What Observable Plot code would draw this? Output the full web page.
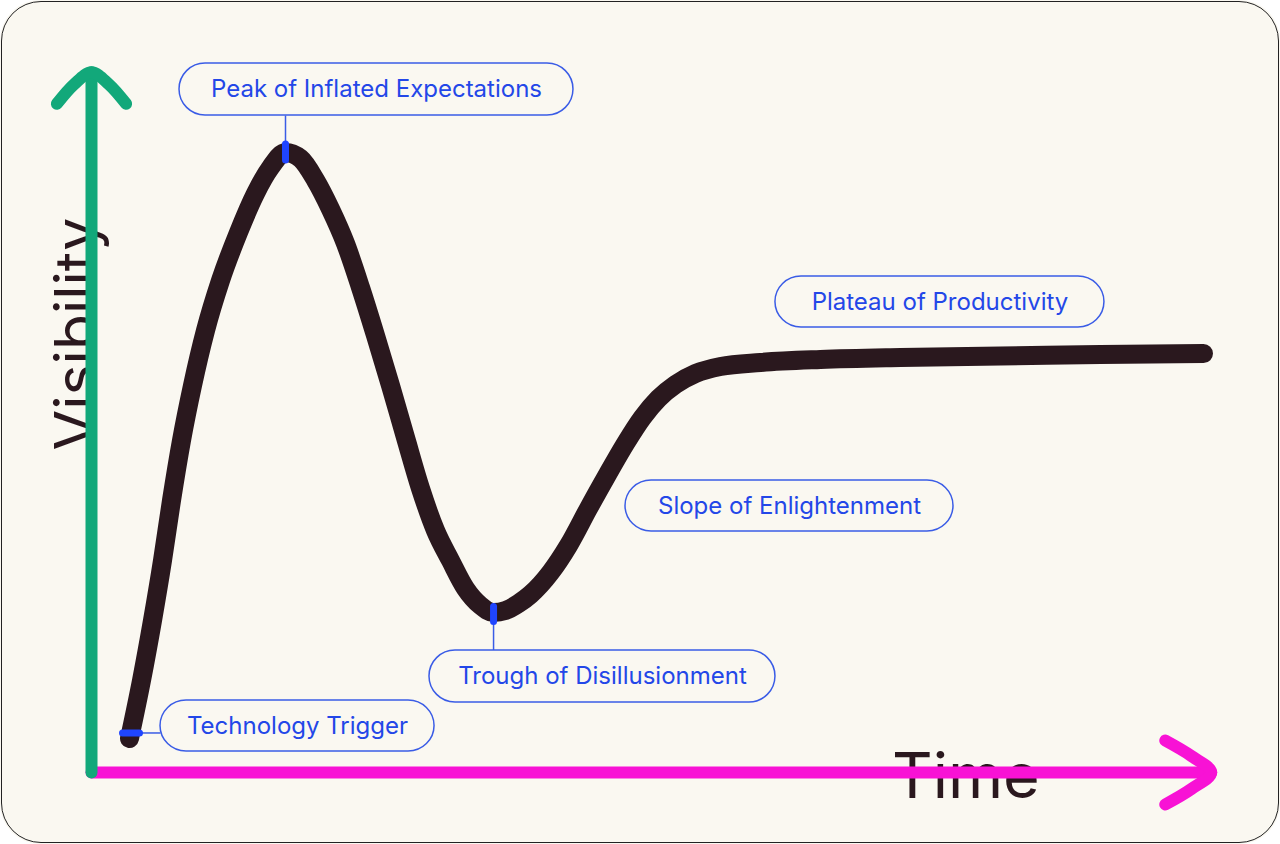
<!DOCTYPE html>
<html>
<head>
<meta charset="utf-8">
<script src="https://cdn.jsdelivr.net/npm/d3@7"></script>
<script src="https://cdn.jsdelivr.net/npm/@observablehq/plot@0.6"></script>
<style>
  html, body { margin: 0; padding: 0; background: #ffffff; }
  #card { position: relative; width: 1280px; height: 844px; background: #faf8f1; border-radius: 40px; overflow: hidden; }
  #card svg { position: absolute; left: 0; top: 0; }
  #border { position: absolute; left: 1px; top: 1px; right: 1px; bottom: 1px; border: 1.6px solid #222; border-radius: 40px; pointer-events: none; box-sizing: border-box; }
</style>
</head>
<body>
<div id="card"><div id="border"></div></div>
<script>
// ---- Hype-cycle curve (time vs visibility, 0-100 units) ----
const curveX = [3.381, 4.448, 5.427, 6.317, 7.117, 8.007, 8.986, 10.142, 11.477, 13.078, 14.591, 15.925, 17.260,
  18.594, 19.929, 21.263, 22.598, 23.932, 25.267, 26.601, 27.936, 29.270, 30.605, 31.940, 33.274, 34.609, 35.765,
  36.833, 37.990, 39.057, 40.836, 42.438, 44.217, 45.907, 47.509, 49.021, 50.445, 51.957, 53.737, 55.961, 59.520, 64.858, 71.975, 80.872, 89.769, 98.932];
const curveY = [4.843, 13.105, 21.652, 30.199, 38.746, 47.293, 55.128, 62.963, 70.085, 76.923, 82.479, 86.182, 88.319,
  87.464, 84.387, 80.256, 75.356, 69.088, 62.251, 55.128, 47.721, 40.456, 34.473, 30.199, 26.211, 23.789, 22.792,
  23.077, 24.074, 25.356, 28.490, 32.336, 37.607, 42.450, 46.866, 50.570, 53.276, 55.271, 56.838, 57.835, 58.405, 58.832, 59.117, 59.330, 59.544, 59.687];

// ---- Phase labels (pill boxes) ----
const phaseNames = ["Technology Trigger", "Peak of Inflated Expectations", "Trough of Disillusionment", "Slope of Enlightenment", "Plateau of Productivity"];
const pillX1 = [6.14, 7.83, 30.07, 47.51, 60.85];
const pillX2 = [30.52, 42.88, 60.85, 76.69, 90.12];
const pillY1 = [2.99, 93.59, 9.97, 34.33, 63.39];
const pillY2 = [10.26, 101.0, 17.38, 41.60, 70.66];

// ---- Markers on the curve (trigger, peak, trough) ----
const markX1 = [2.76, 17.26, 35.77];
const markX2 = [4.27, 17.26, 35.77];
const markY1 = [5.63, 87.25, 21.51];
const markY2 = [5.63, 89.53, 23.65];

// ---- Connectors from markers to pills ----
const connX1 = [4.27, 17.26, 35.77];
const connX2 = [6.14, 17.26, 35.77];
const connY1 = [5.63, 89.53, 21.51];
const connY2 = [5.63, 93.59, 17.38];

// ---- Axes (shaft + arrowhead arms) ----
const visShaftX = [0, 0];
const visShaftY = [0, 99.76];
const visHeadX = [-3.08, -1.54, 0, 1.54, 3.08];
const visHeadY = [95.26, 98.05, 99.76, 98.05, 95.26];
const timeShaftX = [0, 99.62];
const timeShaftY = [0, 0];
const timeHeadX = [95.53, 97.85, 99.62, 97.85, 95.53];
const timeHeadY = [4.55, 2.35, 0, -2.35, -4.55];

const axisTitles = ["Visibility", "Time"];
const titleX = [0.53, 71.22];
const titleY = [62.46, -3.70];

// ---- Build tables ----
const curve = curveX.map((x, i) => ({x, y: curveY[i]}));
const pills = phaseNames.map((name, i) => ({name, x1: pillX1[i], x2: pillX2[i], y1: pillY1[i], y2: pillY2[i]}));
const marks3 = markX1.map((x, i) => ({x1: x, x2: markX2[i], y1: markY1[i], y2: markY2[i]}));
const conns = connX1.map((x, i) => ({x1: x, x2: connX2[i], y1: connY1[i], y2: connY2[i]}));
const pts = (xs, ys) => xs.map((x, i) => ({x, y: ys[i]}));

const ink = "#2a181e";
const blue = "#2347e8";
const pillStroke = "#3a5ce6";
const green = "#12a87a";
const magenta = "#f812d5";
const labelFont = "Inter, 'Noto Sans', sans-serif";

const chart = Plot.plot({
  width: 1280,
  height: 844,
  marginLeft: 91,
  marginRight: 65,
  marginTop: 70,
  marginBottom: 72,
  x: {domain: [0, 100], axis: null},
  y: {domain: [0, 100], axis: null},
  style: {background: "transparent", overflow: "visible"},
  marks: [
    // connectors
    Plot.link(conns, {x1: "x1", y1: "y1", x2: "x2", y2: "y2", stroke: pillStroke, strokeWidth: 1.5}),
    // pills
    Plot.rect(pills, {x1: "x1", x2: "x2", y1: "y1", y2: "y2", rx: 26, fill: "#faf8f1", stroke: pillStroke, strokeWidth: 1.5}),
    Plot.text(pills, {x: d => (d.x1 + d.x2) / 2, y: d => (d.y1 + d.y2) / 2, text: "name", fill: blue, fontSize: 24, fontFamily: labelFont, fontWeight: 400, textAnchor: "middle", lineAnchor: "middle"}),
    // hype curve
    Plot.line(curve, {x: "x", y: "y", curve: "monotone-x", stroke: ink, strokeWidth: 19, strokeLinecap: "round", strokeLinejoin: "round"}),
    // markers
    Plot.link(marks3, {x1: "x1", y1: "y1", x2: "x2", y2: "y2", stroke: "#1f45ff", strokeWidth: 7, strokeLinecap: "round"}),
    // axis titles
    Plot.text([axisTitles[0]], {x: () => titleX[0], y: () => titleY[0], text: d => d, rotate: -90, fontSize: 59, fontFamily: "Inter, 'Liberation Sans', sans-serif", fill: ink, textAnchor: "middle", lineAnchor: "bottom"}),
    Plot.text([axisTitles[1]], {x: () => titleX[1], y: () => titleY[1], text: d => d, fontSize: 63, fontFamily: "Inter, 'Liberation Sans', sans-serif", fill: ink, textAnchor: "start", lineAnchor: "bottom"}),
    // time axis
    Plot.line(pts(timeShaftX, timeShaftY), {x: "x", y: "y", stroke: magenta, strokeWidth: 12, strokeLinecap: "round"}),
    Plot.line(pts(timeHeadX, timeHeadY), {x: "x", y: "y", curve: "catmull-rom", stroke: magenta, strokeWidth: 12, strokeLinecap: "round", strokeLinejoin: "round"}),
    // visibility axis
    Plot.line(pts(visShaftX, visShaftY), {x: "x", y: "y", stroke: green, strokeWidth: 12, strokeLinecap: "round"}),
    Plot.line(pts(visHeadX, visHeadY), {x: "x", y: "y", curve: "catmull-rom", stroke: green, strokeWidth: 12, strokeLinecap: "round", strokeLinejoin: "round"})
  ]
});
document.getElementById("card").insertBefore(chart, document.getElementById("border"));
</script>
</body>
</html>
